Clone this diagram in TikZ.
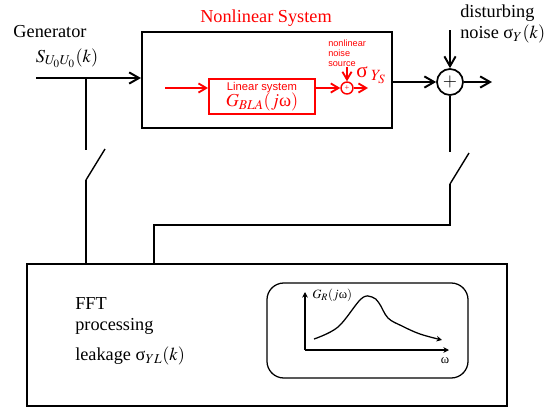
\documentclass[tikz,border=0pt]{standalone}
\usepackage{mathptmx}
\usepackage{fontspec}
\setmainfont{Liberation Serif}
\setsansfont{Liberation Sans}
\usetikzlibrary{arrows.meta, positioning, calc}
\definecolor{nlred}{HTML}{FF0000}

\tikzset{
  blockbox/.style={draw, line width=1.4pt, inner sep=0pt},
  redbox/.style={draw=nlred, line width=1.4pt, inner sep=0pt},
  plotbox/.style={draw, line width=0.9pt, rounded corners=12pt, inner sep=0pt},
  sumnode/.style={draw, circle, line width=1.2pt, minimum size=0.65cm, inner sep=0pt},
  redsum/.style={draw=nlred, circle, line width=1pt, minimum size=0.3cm, inner sep=0pt, text=nlred},
  wire/.style={line width=1.4pt},
  sig/.style={wire, -{Straight Barb[length=7pt,width=8pt]}},
  redsig/.style={line width=1.3pt, draw=nlred, -{Straight Barb[length=5.5pt,width=6.5pt]}},
  axis/.style={line width=1pt, -{Stealth[length=4pt,width=4pt]}},
  redtext/.style={text=nlred, inner sep=0pt},
  lbl/.style={inner sep=0pt, align=left}
}

\begin{document}
\begin{tikzpicture}[x=0.025cm, y=-0.025cm, font=\fontsize{13}{15}\selectfont]
\useasboundingbox (0,0) rectangle (548,409);

% blocks
\node[blockbox, minimum width=6.25cm, minimum height=2.4cm] (nls) at (267,80) {};
\node[redbox, minimum width=2.65cm, minimum height=0.875cm] (lin) at (262,96.5) {};
\node[redsum] (rsum) at (347,88) {\fontsize{6}{6}\selectfont +};
\node[sumnode] (sum) at (450,82) {$+$};
\node[blockbox, minimum width=12cm, minimum height=3.55cm] (fft) at (267,335) {};
\node[plotbox, minimum width=5.025cm, minimum height=2.375cm] (spec) at (367.5,330.5) {};

% texts
\node[lbl] (gentxt) at (50,32) {Generator};
\node[lbl] (gensig) at (67,58) {$S_{U_0U_0}(k)$};
\node[redtext] (nlstxt) at (266,18) {Nonlinear System};
\node[redtext, font=\sffamily\fontsize{8}{9}\selectfont] (lintxt) at (262,87.5) {Linear system};
\node[redtext] (lintf) at (262,102) {$G_{BLA}(j$ω$)$};
\node[redtext, font=\sffamily\fontsize{6.5}{7}\selectfont, align=left, anchor=west] (nltxt) at (328,53) {nonlinear\\noise\\source};
\node[redtext, anchor=west, font=\fontsize{15}{15}\selectfont] (sigS) at (356,75) {σ\,$_{Y_S}$};
\node[lbl, anchor=west] (disttxt) at (460,24) {disturbing\\noise σ$_Y(k)$};
\node[lbl, anchor=west] (ffttxt) at (75,316) {FFT\\processing};
\node[lbl, anchor=west] (leaktxt) at (75,356) {leakage σ$_{YL}(k)$};

% input and output
\coordinate (gen) at (36,78);
\coordinate (tapL) at (86,78);
\coordinate (dist) at (450,30);
\coordinate (out) at (492,82);
\draw[sig] (gen) -- (gen -| nls.west);
\draw[sig] (nls.east |- sum) -- (sum.west);
\draw[sig] (sum.east) -- (out);
\draw[sig] (dist) -- (sum.north);

% linear part with noise source
\coordinate (rin) at (165,88);
\coordinate (rout) at (368,88);
\coordinate (rnoise) at (347,67);
\draw[redsig] (rin) -- (rin -| lin.west);
\draw[redsig] (lin.east |- rsum) -- (rsum.west);
\draw[redsig] (rsum.east) -- (rout);
\draw[redsig] (rnoise) -- (rsum.north);

% switches
\coordinate (swLa) at (86,150);
\coordinate (swLb) at (86,180);
\coordinate (swLc) at (105,149);
\coordinate (swRa) at (450,152);
\coordinate (swRb) at (450,184);
\coordinate (swRc) at (469,153);
\coordinate (feed) at (154,225);
\draw[wire] (tapL) -- (swLa);
\draw[line width=1pt] (swLb) -- (swLc);
\draw[wire] (swLb) -- (swLb |- fft.north);
\draw[wire] (sum.south) -- (swRa);
\draw[line width=1pt] (swRb) -- (swRc);
\draw[wire] (swRb) -- (swRb |- feed) -- (feed) -- (feed |- fft.north);

% spectrum sketch
\coordinate (org) at (305,350);
\coordinate (ytop) at (305,292);
\coordinate (xend) at (449,350);
\draw[axis] (org) -- (ytop);
\draw[axis] (org) -- (xend);
\node[inner sep=0pt, anchor=west, font=\fontsize{9}{9}\selectfont] (grtxt) at (312,295) {$G_R(j$ω$)$};
\node[inner sep=0pt, font=\fontsize{9}{9}\selectfont] (omtxt) at (445,361) {ω};
\draw[axis, line width=0.9pt] plot[smooth, tension=0.6] coordinates {(314,339) (338,327) (361,299) (372,297) (379,303) (388,318) (402,326) (420,334) (442,340)};

\end{tikzpicture}
\end{document}
